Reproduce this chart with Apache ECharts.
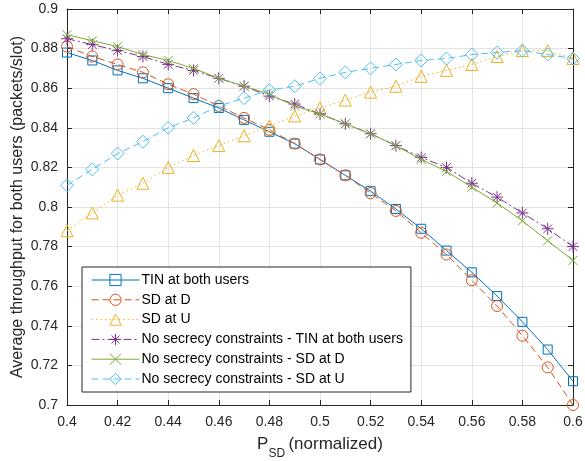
<!DOCTYPE html>
<html><head><meta charset="utf-8">
<script src="https://cdn.jsdelivr.net/npm/echarts@6/dist/echarts.min.js"></script>
<style>html,body{margin:0;padding:0;background:#fff}#c{width:585px;height:461px}</style>
</head><body><div id="c"></div>
<script>
var xValues = [0.40,0.41,0.42,0.43,0.44,0.45,0.46,0.47,0.48,0.49,0.50,0.51,0.52,0.53,0.54,0.55,0.56,0.57,0.58,0.59,0.60];
var tinBoth = [0.878,0.874,0.869,0.865,0.860,0.855,0.850,0.844,0.838,0.832,0.824,0.816,0.808,0.799,0.789,0.778,0.767,0.755,0.742,0.728,0.712];
var sdAtD = [0.881,0.876,0.872,0.868,0.862,0.857,0.851,0.845,0.839,0.832,0.824,0.816,0.807,0.798,0.787,0.776,0.763,0.750,0.735,0.719,0.700];
var sdAtU = [0.788,0.797,0.806,0.812,0.820,0.826,0.831,0.836,0.841,0.846,0.850,0.854,0.858,0.861,0.866,0.869,0.872,0.876,0.879,0.879,0.875];
var noSecTin = [0.885,0.882,0.879,0.876,0.872,0.869,0.865,0.861,0.856,0.852,0.847,0.842,0.837,0.831,0.825,0.820,0.812,0.805,0.797,0.789,0.780];
var noSecSdD = [0.887,0.884,0.881,0.877,0.874,0.870,0.865,0.861,0.857,0.851,0.847,0.842,0.837,0.831,0.824,0.818,0.810,0.802,0.793,0.783,0.773];
var noSecSdU = [0.811,0.819,0.827,0.833,0.840,0.845,0.851,0.855,0.859,0.861,0.865,0.868,0.870,0.872,0.874,0.875,0.877,0.878,0.879,0.877,0.875];
var seriesNames = ['TIN at both users','SD at D','SD at U','No secrecy constraints - TIN at both users','No secrecy constraints - SD at D','No secrecy constraints - SD at U'];
var xTitle = '(normalized)';
var yTitle = 'Average throughput for both users (packets/slot)';

var FONT = 'Liberation Sans, Arial, Helvetica, sans-serif';
function pairs(ys){ return ys.map(function(y,i){ return [xValues[i], y]; }); }
function fmt(v){ return String(parseFloat(v.toFixed(2))); }

var styles = [
  {c:'#0072BD', sym:'rect', size:9, dash:'solid'},
  {c:'#D95319', sym:'circle', size:11, dash:[7,4]},
  {c:'#EDB120', sym:'triangle', size:12, dash:[1.5,3]},
  {c:'#7E2F8E', sym:'path://M0,-10L0,10M-10,0L10,0M-7.07,-7.07L7.07,7.07M-7.07,7.07L7.07,-7.07', size:12, dash:[8,3,2,3]},
  {c:'#77AC30', sym:'path://M-10,-10L10,10M-10,10L10,-10', size:9, dash:'solid'},
  {c:'#4DBEEE', sym:'diamond', size:13, dash:[7,4]}
];
var datas = [tinBoth, sdAtD, sdAtU, noSecTin, noSecSdD, noSecSdU];

var series = datas.map(function(d,i){
  var s = styles[i];
  return {
    name: seriesNames[i], type:'line', data: pairs(d),
    symbol: s.sym, symbolSize: s.size, showAllSymbol:true,
    lineStyle:{color:s.c, width:1, type:s.dash},
    itemStyle:{color:'rgba(0,0,0,0)', borderColor:s.c, borderWidth:1},
    emphasis:{disabled:true}, animation:false, z: 2+i
  };
});

var chart = echarts.init(document.getElementById('c'), null, {renderer:'canvas'});
chart.setOption({
  animation:false,
  textStyle:{fontFamily:FONT},
  grid:{left:67, right:12, top:9, bottom:56, containLabel:false, outerBoundsMode:'none'},
  xAxis:[{
    type:'value', min:0.4, max:0.6, interval:0.02, position:'bottom',
    axisLine:{show:true, lineStyle:{color:'#262626', width:1}},
    axisTick:{show:true, inside:true, length:5, lineStyle:{color:'#262626'}},
    axisLabel:{formatter:fmt, color:'#262626', fontSize:14, margin:10, fontFamily:FONT},
    splitLine:{show:true, lineStyle:{color:'#e3e3e3', width:1}},
    name: '{p|P}{s|SD} {n|' + xTitle + '}', nameLocation:'middle', nameGap:31,
    nameTextStyle:{rich:{p:{fontSize:17, color:'#262626', fontFamily:FONT}, s:{fontSize:12, color:'#262626', verticalAlign:'bottom', padding:[0,0,-7,0], fontFamily:FONT}, n:{fontSize:17, color:'#262626', fontFamily:FONT}}}
  },{
    type:'value', min:0.4, max:0.6, interval:0.02, position:'top',
    axisLine:{show:true, lineStyle:{color:'#262626', width:1}},
    axisTick:{show:true, inside:true, length:5, lineStyle:{color:'#262626'}},
    axisLabel:{show:false}, splitLine:{show:false}
  }],
  yAxis:[{
    type:'value', min:0.7, max:0.9, interval:0.02, position:'left',
    axisLine:{show:true, lineStyle:{color:'#262626', width:1}},
    axisTick:{show:true, inside:true, length:5, lineStyle:{color:'#262626'}},
    axisLabel:{formatter:fmt, color:'#262626', fontSize:14, margin:9, fontFamily:FONT},
    splitLine:{show:true, lineStyle:{color:'#e3e3e3', width:1}},
    name: yTitle, nameLocation:'middle', nameGap:41, nameMoveOverlap:false,
    nameTextStyle:{fontSize:16, color:'#262626', fontFamily:FONT}
  },{
    type:'value', min:0.7, max:0.9, interval:0.02, position:'right',
    axisLine:{show:true, lineStyle:{color:'#262626', width:1}},
    axisTick:{show:true, inside:true, length:5, lineStyle:{color:'#262626'}},
    axisLabel:{show:false}, splitLine:{show:false}
  }],
  legend:{
    orient:'vertical', left:82, top:267, data: seriesNames,
    backgroundColor:'#fff', borderColor:'#262626', borderWidth:1,
    padding:[6,8,6,9], itemWidth:48, itemHeight:14, itemGap:5.8,
    lineStyle:{width:1},
    itemStyle:{borderWidth:1},
    textStyle:{fontSize:14, color:'#000', fontFamily:FONT, lineHeight:14, padding:[0,0,0,-3]},
    selectedMode:false
  },
  series: series
});
</script></body></html>
